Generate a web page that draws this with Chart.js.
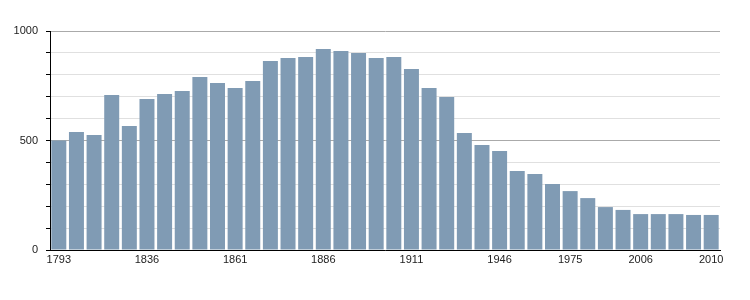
<!DOCTYPE html>
<html>
<head>
<meta charset="utf-8">
<script src="https://cdn.jsdelivr.net/npm/chart.js@4/dist/chart.umd.min.js"></script>
<style>
html,body{margin:0;padding:0;background:#fff;}
#wrap{width:750px;height:300px;position:relative;}
</style>
</head>
<body>
<div id="wrap"><canvas id="c" width="750" height="300"></canvas></div>
<script>
const years = ["1793","1800","1806","1821","1831","1836","1841","1846","1851","1856","1861","1866","1872","1876","1881","1886","1891","1896","1901","1906","1911","1921","1926","1931","1936","1946","1954","1962","1968","1975","1982","1990","1999","2006","2007","2008","2009","2010"];
const population = [500,539,525,708,566,689,712,726,790,763,740,772,863,877,881,918,909,900,877,881,826,740,699,534,479,452,361,347,301,269,237,196,183,164,164,164,160,160];
const shownYearLabels = ["1793","1836","1861","1886","1911","1946","1975","2006","2010"];
const yLabelValues = [0,500,1000];

const shownIdx = new Set();
shownYearLabels.forEach(l => { const i = years.indexOf(l); if (i >= 0) shownIdx.add(i); });

Chart.defaults.font.family = "'Liberation Sans', Arial, sans-serif";
Chart.defaults.font.size = 11;
Chart.defaults.color = '#222';

new Chart(document.getElementById('c'), {
  type: 'bar',
  data: {
    labels: years,
    datasets: [{
      data: population,
      backgroundColor: 'rgb(128,155,180)',
      borderWidth: 0,
      barPercentage: 0.85,
      categoryPercentage: 1.0
    }]
  },
  options: {
    responsive: false,
    animation: false,
    devicePixelRatio: 1,
    layout: { padding: { top: 31, right: 30, left: 0, bottom: 0 } },
    plugins: { legend: { display: false }, tooltip: { enabled: false } },
    scales: {
      x: {
        grid: { display: false, drawTicks: false },
        border: { display: true, color: '#000', width: 1 },
        ticks: {
          autoSkip: false, maxRotation: 0, minRotation: 0, padding: 3,
          callback: function(v, i) { return shownIdx.has(i) ? years[i] : ''; }
        },
        afterFit: function(s) { s.height = 50; }
      },
      y: {
        min: 0, max: 1000,
        grid: {
          color: ctx => (ctx.tick && ctx.tick.value % 500 === 0) ? '#aaaaaa' : '#e0e0e0',
          lineWidth: 1,
          drawTicks: true,
          tickLength: 4,
          tickColor: '#000'
        },
        border: { display: true, color: '#000', width: 1 },
        ticks: {
          stepSize: 100, padding: 8,
          callback: v => yLabelValues.includes(v) ? String(v) : ''
        },
        afterFit: function(s) { s.width = 50; }
      }
    }
  }
});
</script>
</body>
</html>
